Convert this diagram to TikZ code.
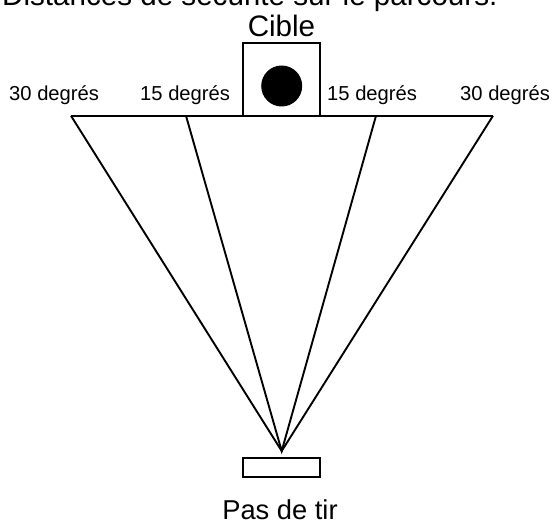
\documentclass[tikz,border=0pt]{standalone}
\usepackage{fontspec}
\setmainfont{Liberation Sans}
\usetikzlibrary{positioning}

\begin{document}
\begin{tikzpicture}[x=1pt, y=-1pt,
  box/.style={draw, line width=1.9pt, inner sep=0pt},
  ray/.style={line width=1.9pt, line join=miter},
  lbl/.style={inner sep=0pt, anchor=base west, font=\fontsize{20.2}{24}\selectfont},
  big/.style={inner sep=0pt, anchor=base, font=\fontsize{29.6}{34}\selectfont},
]
\useasboundingbox (0,0) rectangle (555,527);
\node[big, anchor=base west] (titre) at (2,6) {Distances de sécurité sur le parcours.};
% cible
\node[box, minimum width=77pt, minimum height=72.5pt] (cible) at (281.8,79.6) {};
\node[big] (nomcible) at (281.5,37) {Cible};
\node[circle, fill, minimum size=41pt, inner sep=0pt] (point) at (281.7,86) {};
% angles
\coordinate (g30) at (71,115.8);
\coordinate (g15) at (186,115.8);
\coordinate (d15) at (376,115.8);
\coordinate (d30) at (493,115.8);
\coordinate (tir) at (281.7,451);
\node[lbl] (lg30) at (9,101) {30 degrés};
\node[lbl] (lg15) at (140,101) {15 degrés};
\node[lbl] (ld15) at (327,101) {15 degrés};
\node[lbl] (ld30) at (460,101) {30 degrés};
\draw[ray] (g30) -- (d30);
\draw[ray] (g30) -- (tir) -- (d30);
\draw[ray] (g15) -- (tir) -- (d15);
% pas de tir
\node[box, minimum width=77pt, minimum height=19pt] (pas) at (281.5,467.5) {};
\node[big, font=\fontsize{27.3}{32}\selectfont] (nompas) at (280,519) {Pas de tir};
\end{tikzpicture}
\end{document}
